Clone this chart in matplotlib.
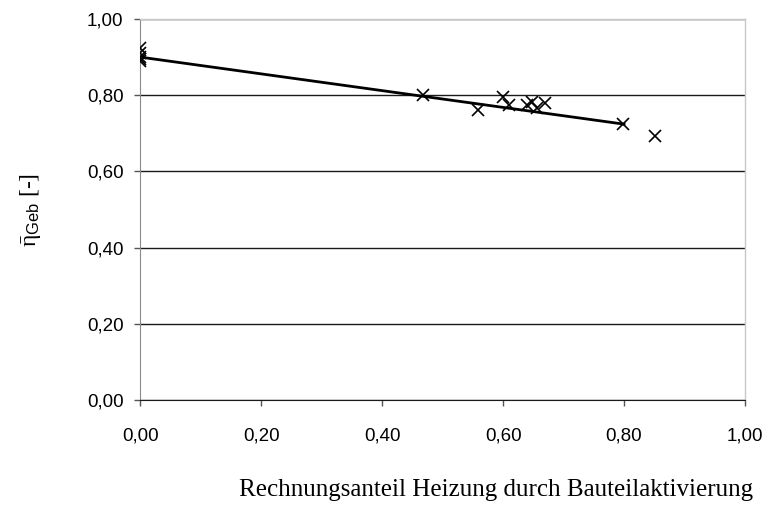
import matplotlib
matplotlib.use("Agg")
import matplotlib.pyplot as plt
from matplotlib.ticker import FuncFormatter

# Measured buildings: share of heating by thermally activated building parts vs. efficiency
anteil = [0.0, 0.0, 0.0, 0.0, 0.0, 0.468, 0.559, 0.60, 0.61, 0.64, 0.648, 0.656, 0.669, 0.798, 0.851]
eta_geb = [0.925, 0.91, 0.90, 0.895, 0.89, 0.80, 0.761, 0.795, 0.774, 0.774, 0.782, 0.766, 0.78, 0.724, 0.693]

# Linear trend line
trend_x = [0.0, 0.80]
trend_y = [0.90, 0.724]

x_ticks = [0.0, 0.2, 0.4, 0.6, 0.8, 1.0]
y_ticks = [0.0, 0.2, 0.4, 0.6, 0.8, 1.0]

plt.rcParams["font.family"] = ["Liberation Sans", "DejaVu Sans"]
plt.rcParams["mathtext.fontset"] = "custom"
plt.rcParams["mathtext.rm"] = "Liberation Serif"
plt.rcParams["mathtext.it"] = "Liberation Serif:italic"
plt.rcParams["mathtext.sf"] = "Liberation Sans"

fig = plt.figure(figsize=(7.66, 5.08), dpi=100)
ax = fig.add_axes([0.183, 0.2126, 0.7896, 0.75])

ax.set_xlim(0, 1.0)
ax.set_ylim(0, 1.0)
ax.set_xticks(x_ticks)
ax.set_yticks(y_ticks)
comma = FuncFormatter(lambda v, p: f"{v:.2f}".replace(".", ","))
ax.xaxis.set_major_formatter(comma)
ax.yaxis.set_major_formatter(comma)

ax.yaxis.grid(True, color="#1a1a1a", linewidth=1.0)
ax.set_axisbelow(True)

for side in ("top", "right"):
    ax.spines[side].set_color("#c8c8c8")
    ax.spines[side].set_linewidth(1.0)
ax.spines["left"].set_color("#8a8a8a")
ax.spines["bottom"].set_color("#1a1a1a")

ax.tick_params(axis="both", direction="out", length=4, width=1, color="#555555",
               labelsize=13.5)
ax.tick_params(axis="x", pad=16)
ax.tick_params(axis="y", pad=8)

ax.plot(trend_x, trend_y, color="black", linewidth=2.0, zorder=3)
ax.plot(anteil, eta_geb, linestyle="none", marker="x", color="black",
        markersize=8, markeredgewidth=1.2, zorder=4)

fig.text(0.648, 0.035, "Rechnungsanteil Heizung durch Bauteilaktivierung",
         family="Liberation Serif", fontsize=18, ha="center", va="center")
fig.text(0.04, 0.587, r"$\bar{\mathrm{\eta}}_{\mathsf{Geb}}$ [-]", family="Liberation Serif",
         fontsize=17, rotation=90, ha="center", va="center")

fig.savefig("out.png", dpi=100)
